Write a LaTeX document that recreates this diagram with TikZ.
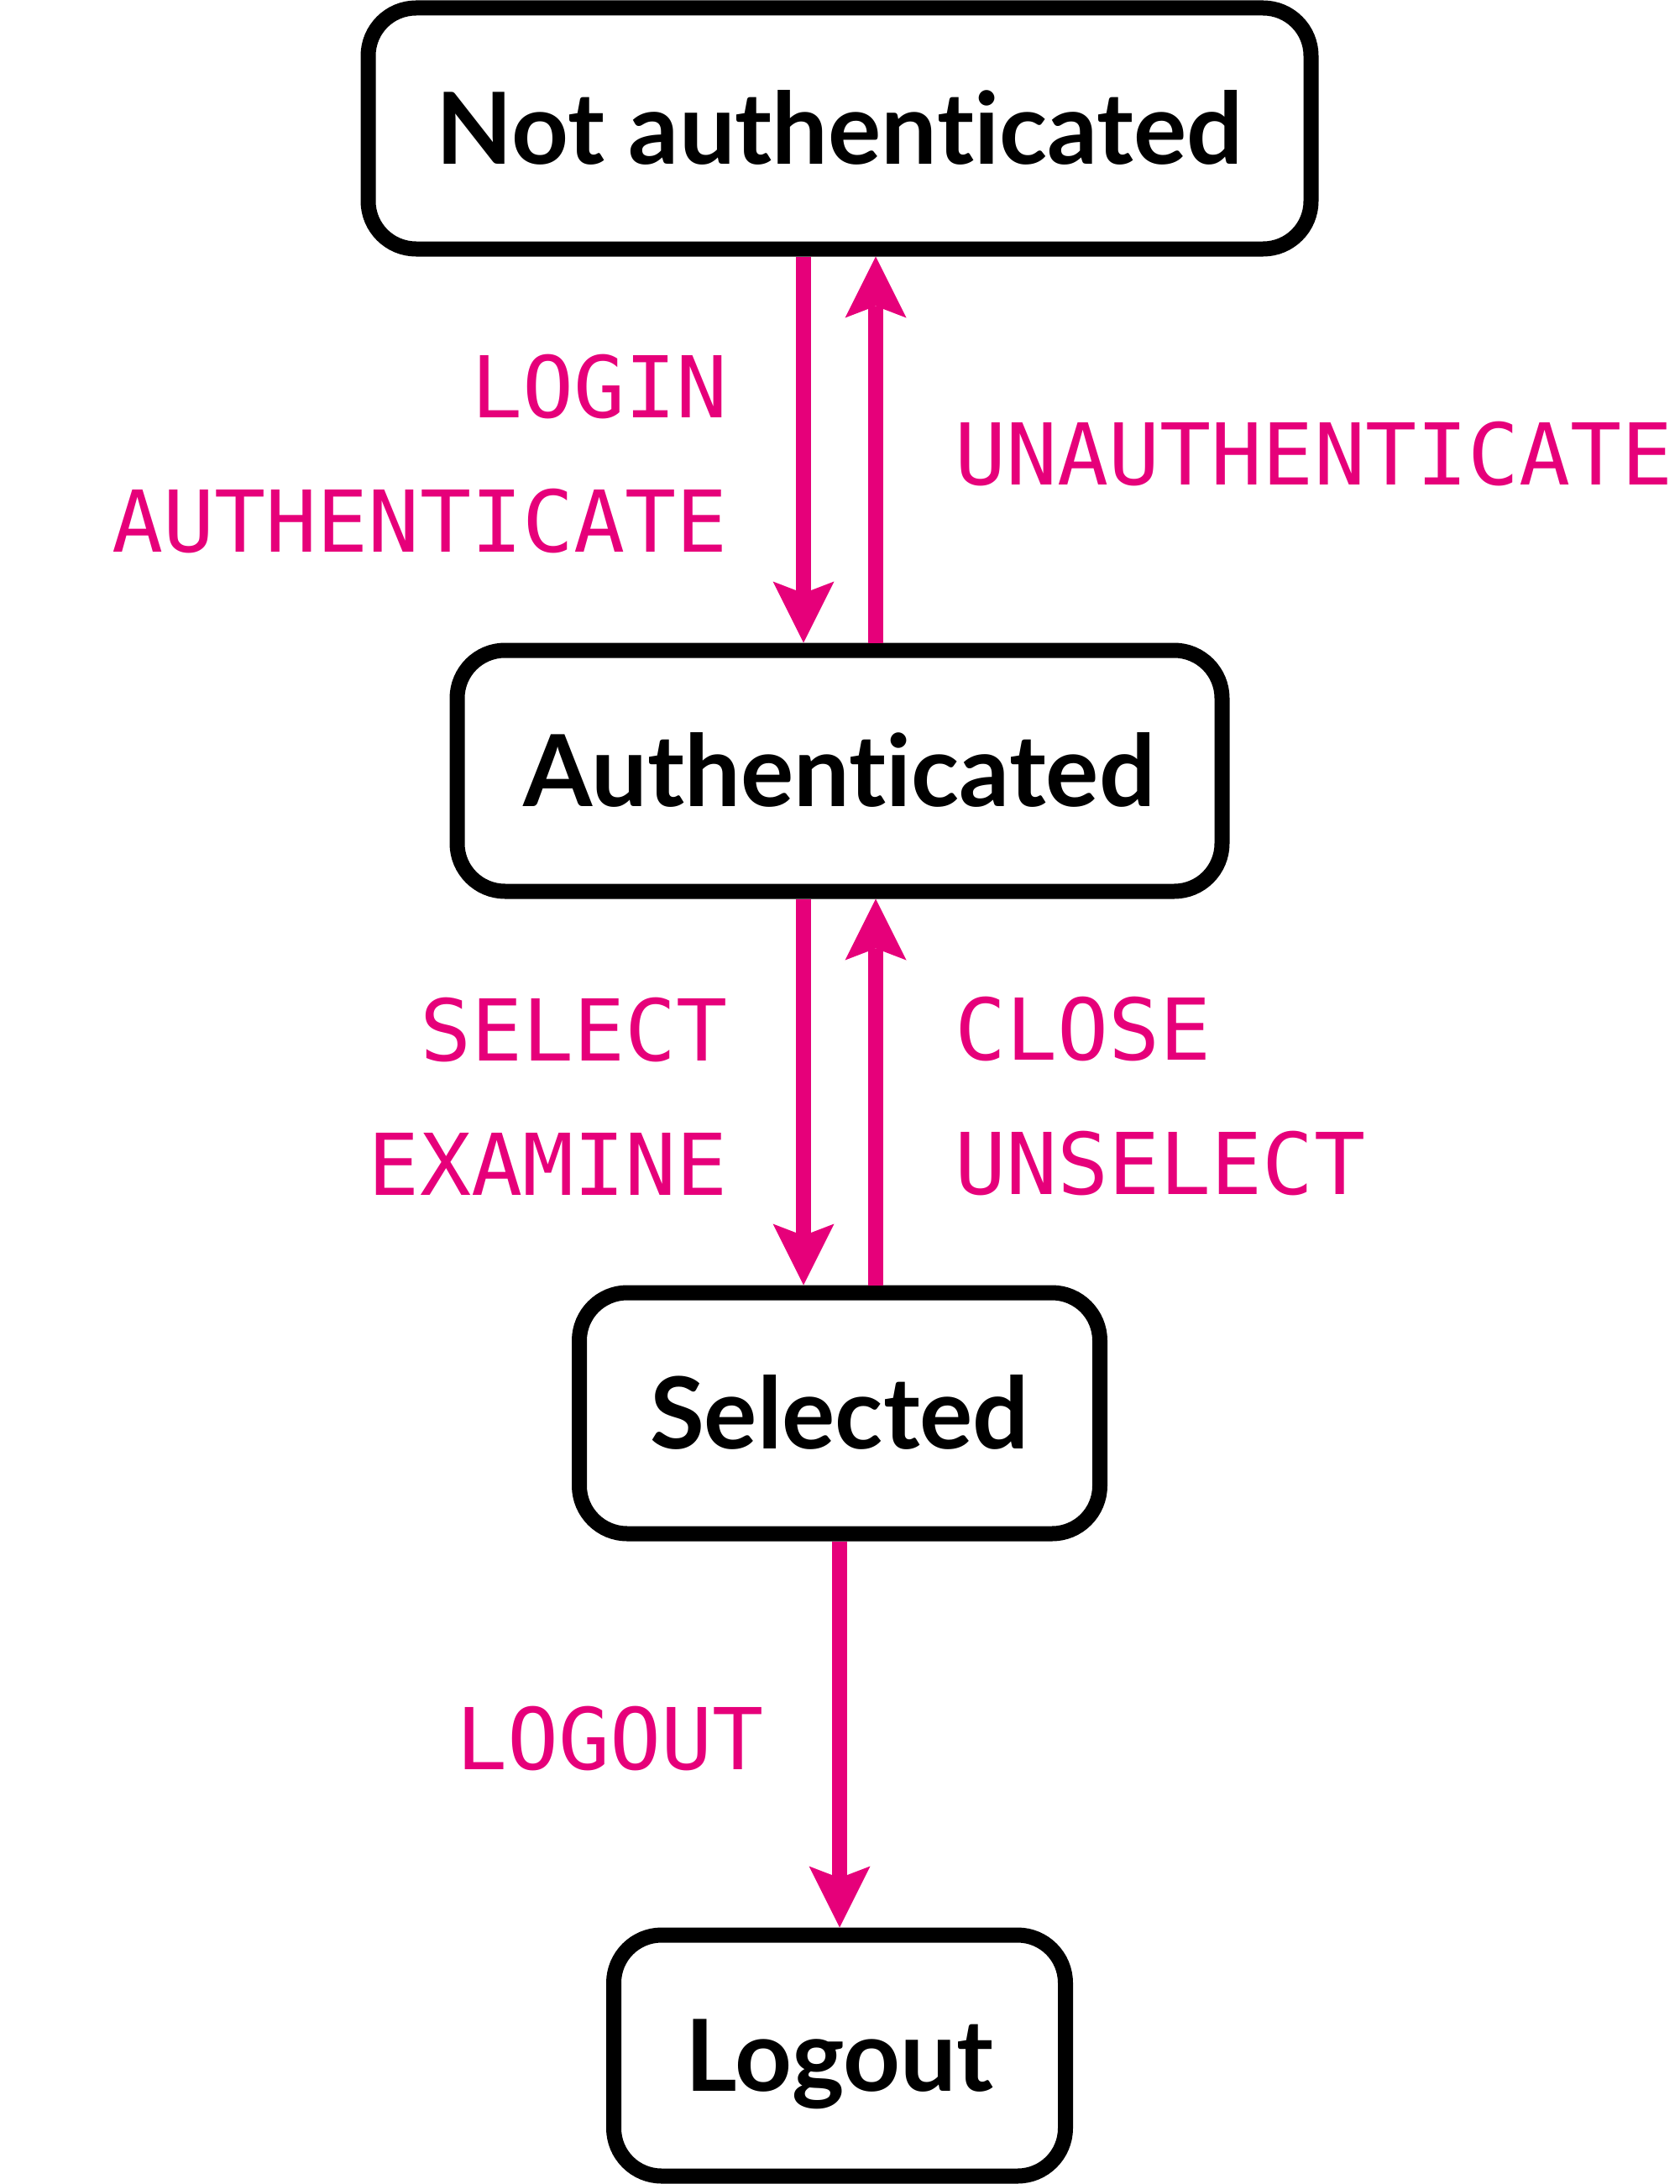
\documentclass[tikz,border=0pt]{standalone}
\usepackage{fontspec}
\setmainfont{Lato}[Ligatures=NoCommon]
\setmonofont{DejaVu Sans Mono}
\usetikzlibrary{positioning,arrows.meta}
\definecolor{imapred}{RGB}{230,0,122}
\tikzset{stbox/.style={rectangle, rounded corners=0.57cm, draw=black, line width=0.18cm, fill=white, minimum height=2.87cm, text centered, text height=0.85cm, text depth=0pt, font=\bfseries\fontsize{33.7}{40}\selectfont},
       cmd/.style={text=imapred, inner sep=0pt, yshift=-0.05cm, font=\ttfamily\fontsize{28.9}{45.5}\selectfont},
       trans/.style={draw=imapred, line width=0.18cm, -{Stealth[length=0.73cm, width=0.73cm, inset=0.14cm, line width=0pt]}}}

\begin{document}
\begin{tikzpicture}[node distance=4.60cm]
\useasboundingbox (0,0) rectangle (20,-26.01);
% states
\node [stbox, minimum width=11.23cm] (nauth) at (10,-1.53) {Not authenticated};
\node [stbox, minimum width=9.11cm, below=of nauth] (auth) {Authenticated};
\node [stbox, minimum width=6.20cm, below=of auth] (sel) {Selected};
\node [stbox, minimum width=5.38cm, below=of sel] (logout) {Logout};
% transitions
\draw [trans] ([xshift=-0.43cm]nauth.south) -- node [cmd, left=0.81cm, align=right] (login) {LOGIN\\AUTHENTICATE} ([xshift=-0.43cm]auth.north);
\draw [trans] ([xshift=0.43cm]auth.north) -- node [cmd, right=0.85cm] (unauth) {UNAUTHENTICATE} ([xshift=0.43cm]nauth.south);
\draw [trans] ([xshift=-0.43cm]auth.south) -- node [cmd, left=0.81cm, align=right] (select) {SELECT\\EXAMINE} ([xshift=-0.43cm]sel.north);
\draw [trans] ([xshift=0.43cm]sel.north) -- node [cmd, right=0.85cm, align=left] (close) {CLOSE\\UNSELECT} ([xshift=0.43cm]auth.south);
\draw [trans] (sel.south) -- node [cmd, left=0.81cm] (logoutcmd) {LOGOUT} (logout.north);
\end{tikzpicture}
\end{document}
